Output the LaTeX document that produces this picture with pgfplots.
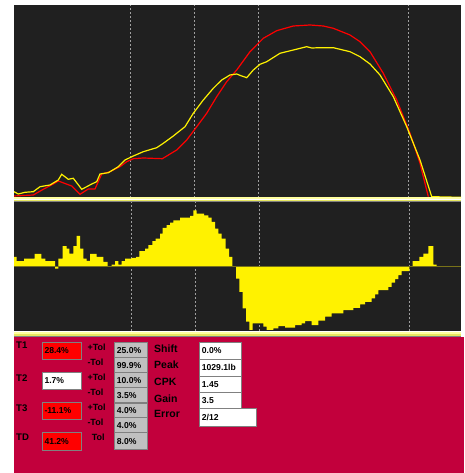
\documentclass[border=0pt]{standalone}
\usepackage{fontspec}
\setmainfont{Liberation Sans}
\usepackage{pgfplots}
\pgfplotsset{compat=1.18}
\definecolor{panelbg}{HTML}{202020}
\definecolor{crimson}{HTML}{C2003C}
\definecolor{palegold}{HTML}{FFFFA0}
\definecolor{midgold}{HTML}{E8E860}
\definecolor{winGray}{HTML}{C0C0C0}
\definecolor{winDark}{HTML}{808080}

\pgfplotsset{
  panel/.style={
    scale only axis, anchor=south west,
    width=447pt, xmin=14, xmax=461,
    axis background/.style={fill=panelbg},
    axis line style={draw=none},
    tick style={draw=none},
    xticklabels={}, ytick=\empty,
    xmajorgrids,
    major grid style={dash pattern=on 2pt off 2pt, color=gray!75, line width=0.8pt},
  }
}

\newcommand{\lbl}[3]{\node[anchor=west, inner sep=0pt, font=#3] at (#1) {#2};}
\newcommand{\valbox}[5]{%
  \fill[#3] (#1) rectangle (#2);
  \draw[winDark, line width=0.8pt] (#1) rectangle (#2);
  \node[anchor=west, inner sep=0pt, font=\fontsize{8.6}{8.6}\selectfont\bfseries] at (#4) {#5};}

\begin{document}
\begin{tikzpicture}[x=1pt, y=1pt]
\fill[white] (0,0) rectangle (464,473);

% top panel: force curves
\begin{axis}[panel, at={(14pt,275pt)}, height=193pt, ymin=0, ymax=193,
  xtick={130,194.3,258.7,408.7}]
\addplot[red, line width=1.2pt] coordinates {
(14,2) (33.3,3) (43.3,8.7) (53.3,14) (58.3,17) (71.7,12) (80,3.7) (88.3,9)
(95,9) (101.7,24) (110,26.3) (120,31.3) (126.7,36.3) (133.3,39.3) (143.3,40)
(162.3,39.3) (176.7,48) (186.7,58) (194.3,68) (206.7,84.7) (216.7,101.3)
(226.7,116.3) (236.7,128) (250,146.3) (263.3,159.7) (276.7,167.3) (293.3,172)
(310,173) (323.3,172) (333.3,169.7) (350,163) (360,156.3) (370,146.3)
(383.3,124.7) (396.7,98) (410,64.7) (420,34.7) (428.3,1.3)};
\addplot[yellow, line width=1.2pt] coordinates {
(14,6.3) (18.3,4) (25,5.7) (33.3,6.3) (40,11.3) (50,13) (58.3,18) (61.7,23.7)
(68.3,18.7) (73.3,19.7) (76.7,15.3) (81.7,8.7) (86.7,11.3) (91.7,14)
(96.7,16.3) (100,24) (108.3,25.3) (118.3,31.3) (125,38) (133.3,42)
(143.3,46.3) (156.7,50.3) (163.3,54.7) (173.3,62) (185,71.3) (193.3,84.7)
(203.3,98) (213.3,109.7) (221.7,118) (230,123) (236.7,124) (241.7,122)
(246.7,120.3) (253.3,128) (260,133.7) (266.7,136.3) (280,144.7) (293.3,148)
(306.7,151.3) (311.7,150) (320,150.3) (333.3,150.3) (350,146.3) (360,141.3)
(370,134) (380,123) (393.3,101.3) (406.7,71.3) (420,38) (431.7,1.3) (461,0.7)};
\end{axis}

% bottom panel: deviation
\begin{axis}[panel, at={(14pt,142pt)}, height=129pt, ymin=-64.3, ymax=65,
  xtick={131.7,195.3,259.3,409.7}]
\addplot[const plot mark left, fill=yellow, draw=none] coordinates {
(14,10) (16.7,5.7) (24,8.3) (34.7,13) (41.3,8.3) (45.3,5.7) (55,-1.7)
(58.3,8.3) (62.7,20.7) (66.7,18.3) (69.3,13.3) (73.3,20.7) (76.7,31)
(80,18.3) (83.3,8.3) (86.7,6) (90,13) (96.7,10) (103.3,5) (107.7,0)
(111.7,2.3) (115,5.7) (118.3,2.3) (121.7,5.7) (125,8.3) (131.7,9) (136,10)
(139.3,15.7) (145,18.3) (148.3,21.7) (152.3,25.7) (155.7,28.3) (160,33.3)
(162.7,39) (166.7,41.7) (170,44.3) (173.3,46.7) (180,49.3) (190,51)
(193.3,56.7) (196.7,53.3) (204,51.7) (208.3,49.3) (211.7,45) (215,38.3)
(218.3,33.3) (221.7,28.3) (225.7,18.3) (229,10) (232.3,0) (236,-11.7)
(239.3,-25) (242.7,-41.7) (246,-55) (249.3,-63.3) (252.7,-56.7) (263.3,-60)
(266.7,-63.3) (273.3,-61.7) (278.3,-59.3) (285,-61) (295,-58.3) (301.7,-56.7)
(305,-54.3) (311.7,-58.3) (318.3,-54) (325,-50) (331.7,-46.7) (343.3,-43.3)
(353.3,-41) (360,-37.7) (365,-35) (371.7,-31.7) (375,-27.7) (378.3,-23.3)
(388.3,-20) (391.7,-15.7) (395,-12.3) (398.3,-8.3) (401.7,-4.3) (409.3,0)
(412.7,5.7) (419.3,10) (423.3,13.3) (428.3,20.7) (433.3,2.3) (436.7,0)
(461,0)} \closedcycle;
\addplot[olive!80!black, line width=0.8pt] coordinates {(14,0) (461,0)};
\end{axis}

% divider strips
\fill[palegold] (14,274.3) rectangle (461,275.7);
\fill[white]    (14,273.0) rectangle (461,274.3);
\fill[midgold]  (14,271.7) rectangle (461,273.0);
\fill[winDark]  (14,270.5) rectangle (461,271.7);
\fill[white]    (14,141.0) rectangle (461,142.3);
\fill[palegold] (14,139.0) rectangle (461,141.0);
\fill[midgold]  (14,137.0) rectangle (461,139.0);
\fill[winDark]  (14,135.8) rectangle (461,137.0);

% status panel
\fill[crimson] (14,0) rectangle (464,135.8);

\lbl{16,128}{T1}{\fontsize{9.6}{9.6}\selectfont\bfseries}
\lbl{16,94.7}{T2}{\fontsize{9.6}{9.6}\selectfont\bfseries}
\lbl{16,64.7}{T3}{\fontsize{9.6}{9.6}\selectfont\bfseries}
\lbl{16,35.7}{TD}{\fontsize{9.6}{9.6}\selectfont\bfseries}

\valbox{42.3,130.7}{81,113.7}{red}{44.3,122.2}{28.4\%}
\valbox{42.3,100.7}{81,83.7}{white}{44.3,92.2}{1.7\%}
\valbox{42.3,70.7}{81,53.7}{red}{44.3,62.2}{-11.1\%}
\valbox{42.3,40.7}{81,23}{red}{44.3,31.9}{41.2\%}

\lbl{87.3,125.7}{+Tol}{\fontsize{9}{9}\selectfont\bfseries}
\lbl{87.3,110.7}{-Tol}{\fontsize{9}{9}\selectfont\bfseries}
\lbl{87.3,95.3}{+Tol}{\fontsize{9}{9}\selectfont\bfseries}
\lbl{87.3,80.7}{-Tol}{\fontsize{9}{9}\selectfont\bfseries}
\lbl{87.3,65.3}{+Tol}{\fontsize{9}{9}\selectfont\bfseries}
\lbl{87.3,50.7}{-Tol}{\fontsize{9}{9}\selectfont\bfseries}
\lbl{91.7,35.3}{Tol}{\fontsize{9}{9}\selectfont\bfseries}

\valbox{114.3,130.3}{147.7,115.3}{winGray}{116.7,122.5}{25.0\%}
\valbox{114.3,115.3}{147.7,100.3}{winGray}{116.7,107.5}{99.9\%}
\valbox{114.3,100.3}{147.7,85.3}{winGray}{116.7,92.5}{10.0\%}
\valbox{114.3,85.3}{147.7,70.3}{winGray}{116.7,77.5}{3.5\%}
\valbox{114.3,69.7}{147.7,55.3}{winGray}{116.7,62.2}{4.0\%}
\valbox{114.3,55.3}{147.7,40.3}{winGray}{116.7,47.5}{4.0\%}
\valbox{114.3,40.3}{147.7,23.7}{winGray}{116.7,31.7}{8.0\%}

\lbl{154,124.7}{Shift}{\fontsize{10.5}{10.5}\selectfont\bfseries}
\lbl{154,108}{Peak}{\fontsize{10.5}{10.5}\selectfont\bfseries}
\lbl{154,91.3}{CPK}{\fontsize{10.5}{10.5}\selectfont\bfseries}
\lbl{154,74.7}{Gain}{\fontsize{10.5}{10.5}\selectfont\bfseries}
\lbl{154,58.7}{Error}{\fontsize{10.5}{10.5}\selectfont\bfseries}

\valbox{199.3,130.3}{241.7,113.7}{white}{201.7,122}{0.0\%}
\valbox{199.3,113.7}{241.7,97}{white}{201.7,105.3}{1029.1lb}
\valbox{199.3,97}{241.7,80.3}{white}{201.7,88.7}{1.45}
\valbox{199.3,80.3}{241.7,64.7}{white}{201.7,72.5}{3.5}
\valbox{199.3,64.7}{256,47}{white}{201.7,55.8}{2/12}

\pgfresetboundingbox
\path (0,0) rectangle (464,473);
\end{tikzpicture}
\end{document}
